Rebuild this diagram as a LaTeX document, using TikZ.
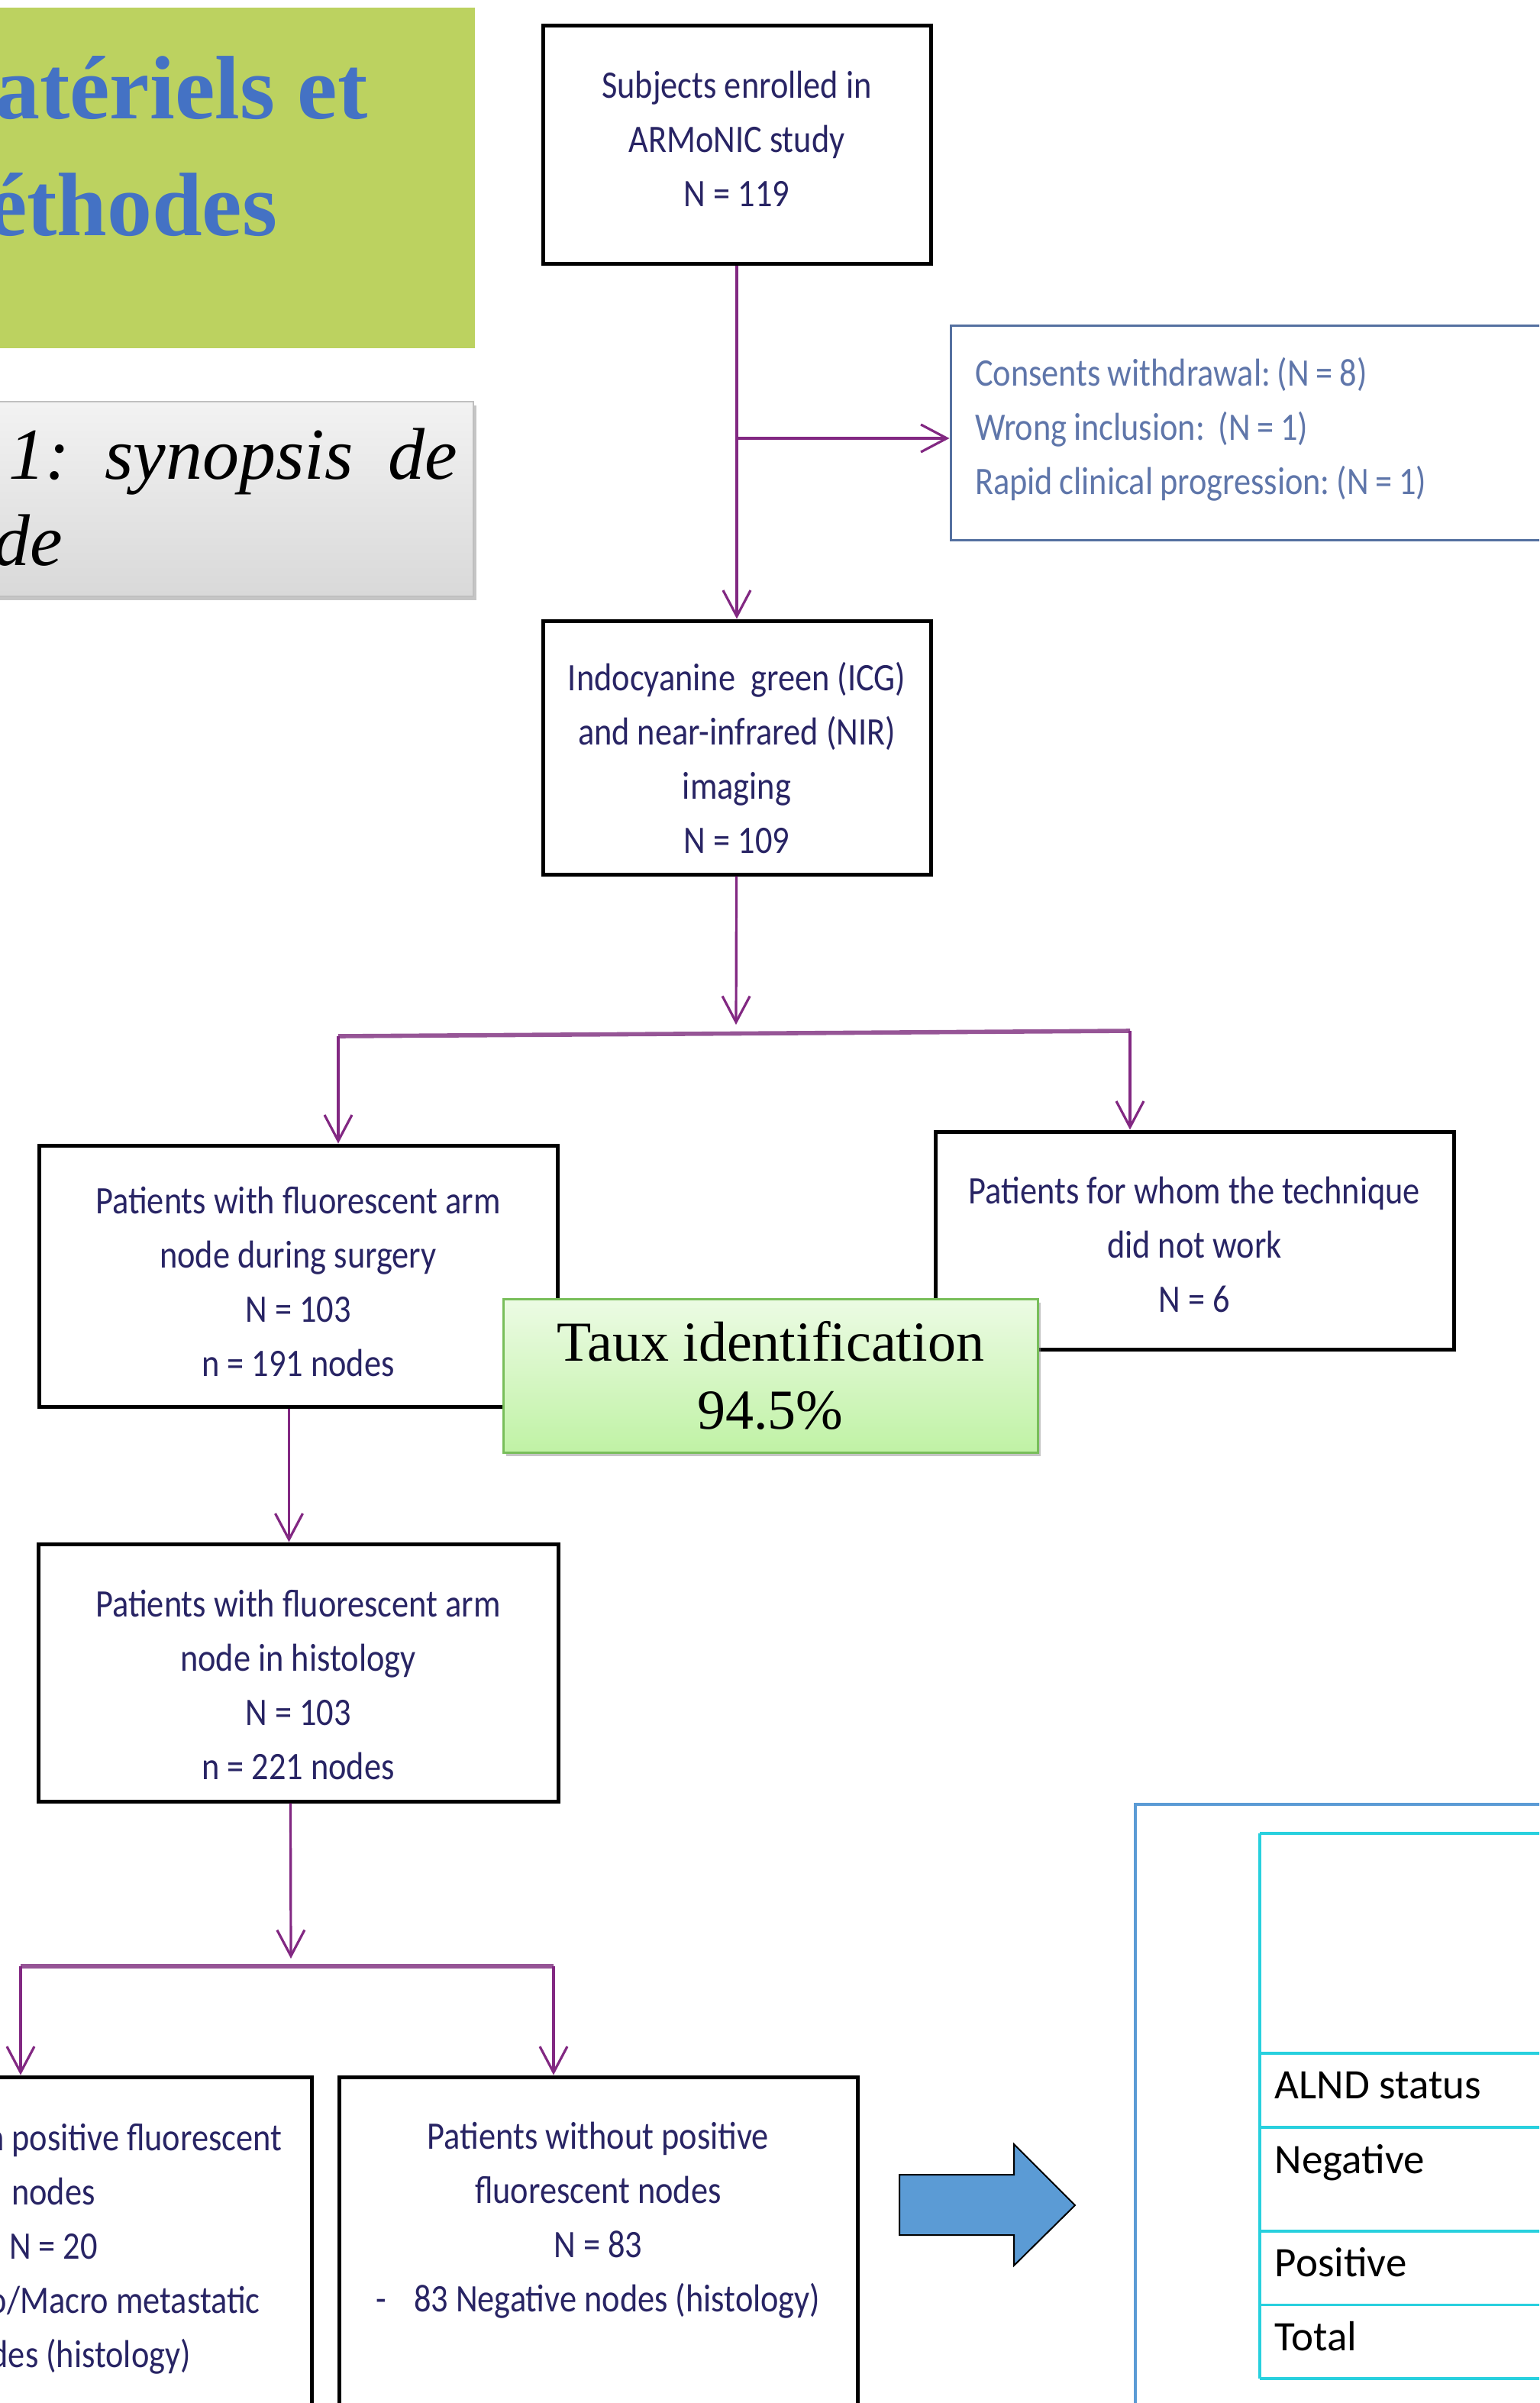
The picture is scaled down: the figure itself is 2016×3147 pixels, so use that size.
\documentclass[tikz,border=0pt]{standalone}
\usepackage{fontspec}
\setmainfont{Liberation Serif}
\newfontfamily\flowfont[FakeStretch=0.87]{Carlito}
\newfontfamily\tabfont{Carlito}
\usetikzlibrary{positioning,%
  arrows.meta,%
  calc,%
  shadows%
}
\definecolor{titlegreen}{RGB}{188,210,96}
\definecolor{titleblue}{RGB}{68,114,196}
\definecolor{navytext}{RGB}{40,36,100}
\definecolor{excltext}{RGB}{95,118,170}
\definecolor{exclblue}{RGB}{84,112,160}
\definecolor{flowpurple}{RGB}{130,40,130}
\definecolor{branchpurple}{RGB}{150,85,150}
\definecolor{tauxtop}{RGB}{236,251,228}
\definecolor{tauxbottom}{RGB}{192,242,165}
\definecolor{tauxborder}{RGB}{120,190,90}
\definecolor{arrowblue}{RGB}{91,155,213}
\definecolor{tabcyan}{RGB}{40,208,222}
\newcommand{\flowtext}{\flowfont\fontsize{12.75pt}{17.75pt}\selectfont}
\newcommand{\tightsp}{\spaceskip=2.2pt\relax}
\frenchspacing

\begin{document}
\begin{tikzpicture}[x=0.25pt,y=-0.25pt]
            \tikzset{box/.style={draw=black,line width=1.25pt,rectangle,inner sep=0pt,
                text depth=0pt,font=\flowtext,text=navytext,align=center},
              flow/.style={draw=flowpurple,line width=0.8pt,-{Straight Barb[length=8.5pt,width=9pt]}},
              branch/.style={draw=branchpurple,line width=1.4pt},
              taux/.style={draw=tauxborder,line width=0.75pt,top color=tauxtop,bottom color=tauxbottom,
                drop shadow={shadow xshift=1pt,shadow yshift=-1.2pt,fill=black!45,opacity=0.5},
                inner sep=0pt,text depth=0pt,align=center,font=\fontsize{18.5pt}{22.25pt}\selectfont},
              titletext/.style={inner sep=0pt,text=titleblue,font=\bfseries\fontsize{29.5pt}{38pt}\selectfont},
              figtext/.style={inner sep=0pt,font=\itshape\fontsize{24pt}{28pt}\selectfont},
              tabtext/.style={anchor=base west,inner sep=0pt,font=\tabfont\fontsize{13.75pt}{16pt}\selectfont},
              tabline/.style={draw=tabcyan,line width=0.9pt}}
            \useasboundingbox (0,0) rectangle (2016,3147);
            \clip (0,0) rectangle (2016,3147);

            % titre
            \node[fill=titlegreen,inner sep=0pt,minimum width=180.5pt,minimum height=111.5pt] (titel) at (261,233) {};
            \node[titletext,anchor=base east] (titel1) at (482,156) {Matériels et};
            \node[titletext,anchor=base east] (titel2) at (364,309) {Méthodes};

            \node[draw=black!25,line width=0.5pt,top color=black!5,bottom color=black!15,
              drop shadow={shadow xshift=1pt,shadow yshift=-1.2pt,fill=black!45,opacity=0.5},
              inner sep=0pt,minimum width=180pt,minimum height=63.75pt] (fig) at (260,653.5) {};
            \node[figtext,anchor=base west] (fig1) at (11,627) {\makebox[146.75pt][l]{1:\hfill synopsis\hfill de}};
            \node[figtext,anchor=base east] (fig2) at (83,740) {de};

            % flowchart
            \node[box,minimum width=127pt,minimum height=77.75pt,text height=40.25pt] (subj) at (965,189.5)
              {Subjects enrolled in\\ARMoNIC study\\N = 119};
            \node[box,draw=exclblue,line width=0.75pt,text=excltext,align=left,text width=247.75pt,
              inner xsep=8pt,minimum height=70.25pt,text height=0pt,text depth=30.75pt] (excl) at (1772.5,566.5)
              {\tightsp Consents withdrawal: (N = 8)\\\tightsp Wrong inclusion:\ \ (N = 1)\\\tightsp Rapid clinical progression: (N = 1)};
            \node[box,minimum width=127pt,minimum height=83pt,text height=69pt] (icg) at (965,979)
              {Indocyanine\ \ green (ICG)\\and near-infrared (NIR)\\imaging\\N = 109};
            \node[box,minimum width=169.75pt,minimum height=85.5pt,text height=65.5pt] (surg) at (390.5,1671)
              {Patients with fluorescent arm\\node during surgery\\N = 103\\n = 191 nodes};
            \node[box,minimum width=169.75pt,minimum height=71.25pt,text height=46.75pt] (fail) at (1564.5,1624.5)
              {Patients for whom the technique\\did not work\\N = 6};
            \node[taux,minimum width=175pt,minimum height=50.25pt,text height=34.75pt] (taux) at (1009,1801.5)
              {Taux identification\\94.5\%};
            \node[box,minimum width=170.25pt,minimum height=84.25pt,text height=69.75pt] (histo) at (390.5,2190.5)
              {Patients with fluorescent arm\\node in histology\\N = 103\\n = 221 nodes};
            \node[box,minimum width=169pt,minimum height=145pt,text height=45pt] (pos) at (70,3010)
              {Patients with positive fluorescent\\nodes\\N = 20\\-\hspace{9pt}20 Micro/Macro metastatic\\\hspace*{12.75pt}nodes (histology)};
            \node[box,minimum width=169.75pt,minimum height=145pt,text height=8.5pt] (neg) at (783.5,3010)
              {Patients without positive\\fluorescent nodes\\N = 83\\-\hspace{9pt}83 Negative nodes (histology)};

            \coordinate (split) at (965,574);
            \draw[flow] (subj) -- (icg);
            \draw[flow] (split) -- (split -| excl.west);

            \coordinate (j1) at (964,1342);
            \coordinate (bl1) at (443,1357);
            \coordinate (br1) at (1480,1350);
            \draw[flow] (icg) -- (j1);
            \draw[branch] (bl1) -- (br1);
            \draw[flow] (bl1) -- (bl1 |- surg.north);
            \draw[flow] (br1) -- (br1 |- fail.north);

            \draw[flow] ([xshift=-3pt]surg.south) -- ([xshift=-3pt]histo.north);

            \coordinate (j2) at (381,2565);
            \coordinate (bl2) at (27,2575);
            \coordinate (br2) at (725,2575);
            \draw[flow] ([xshift=-2.5pt]histo.south) -- (j2);
            \draw[branch] (bl2) -- (br2);
            \draw[flow] (bl2) -- (bl2 |- pos.north);
            \draw[flow] (br2) -- (br2 |- neg.north);

            % fleche + tableau
            \draw[fill=arrowblue,line width=0.5pt] (1178,2848) -- (1328,2848) -- (1328,2808) -- (1408,2888)
              -- (1328,2967) -- (1328,2927) -- (1178,2927) -- cycle;
            \draw[draw=arrowblue,line width=1pt] (1487,2363) rectangle (2200,3300);
            \foreach \ry in {2401,2689,2786,2922,3018.5,3115}
              \draw[tabline] (1650,\ry) -- (2100,\ry);
            \draw[tabline] (1650,2401) -- (1650,3115);
            \node[tabtext] (alnd) at (1669,2748) {ALND status};
            \node[tabtext] (negrow) at (1669,2846) {Negative};
            \node[tabtext] (posrow) at (1669,2981) {Positive};
            \node[tabtext] (total) at (1669,3078) {Total};
        \end{tikzpicture}
\end{document}
